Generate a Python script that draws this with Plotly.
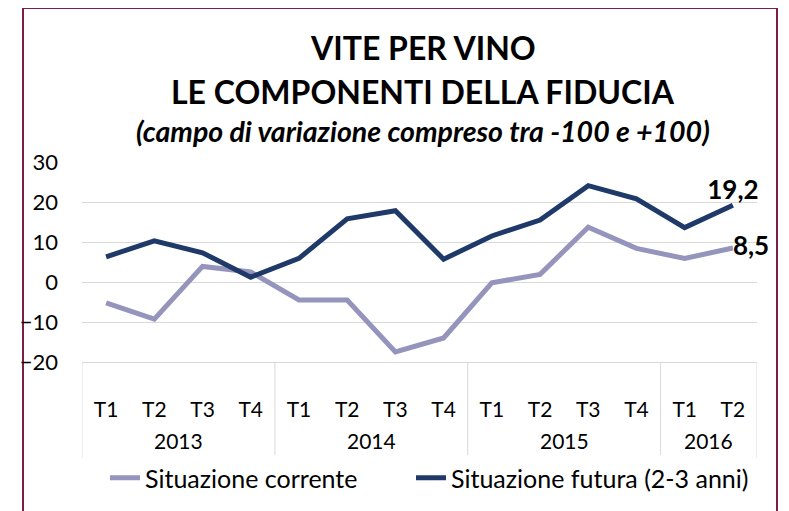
import plotly.graph_objects as go

years = ["2013"] * 4 + ["2014"] * 4 + ["2015"] * 4 + ["2016"] * 2
quarters = ["T1", "T2", "T3", "T4"] * 3 + ["T1", "T2"]
corrente = [-5.2, -9.3, 3.9, 2.5, -4.5, -4.5, -17.5, -14.0, -0.2, 1.9, 13.7, 8.4, 5.9, 8.5]
futura = [6.3, 10.3, 7.3, 1.2, 5.9, 15.8, 17.8, 5.7, 11.5, 15.5, 24.1, 20.8, 13.6, 19.2]
name_corr = "Situazione corrente"
name_fut = "Situazione futura (2-3 anni)"
ytick_vals = [-20, -10, 0, 10, 20, 30]

FONT = "Lato"
C_LIGHT = "#9494BC"
C_DARK = "#1F3A68"
GRID = "#D9D9D9"

xs = list(range(len(quarters)))  # category slots on the axis


def last_label(vals):
    return [""] * (len(vals) - 1) + [f"{vals[-1]:.1f}".replace(".", ",")]


fig = go.Figure()
fig.add_trace(go.Scatter(
    x=xs, y=corrente, name=name_corr, mode="lines+text",
    line=dict(color=C_LIGHT, width=5),
    text=last_label(corrente), textposition="middle right",
    textfont=dict(family=FONT, size=26, color="black", weight="bold"),
    cliponaxis=False, legend="legend",
))
fig.add_trace(go.Scatter(
    x=xs, y=futura, name=name_fut, mode="lines+text",
    line=dict(color=C_DARK, width=5),
    text=last_label(futura), textposition="top center",
    textfont=dict(family=FONT, size=26, color="black", weight="bold"),
    cliponaxis=False, legend="legend2",
))

OFF = 8  # browser default body margin
L, R, T, B = 82 - OFF, 757 - OFF, 162 - OFF, 362 - OFF
W, H = 789 - OFF, 511 - OFF


def px(x):
    return (x - OFF - L) / (R - L)


def py(y):
    return (B - (y - OFF)) / (B - T)


# year group labels and dividers (second level of the category axis)
groups = []
for i, yv in enumerate(years):
    if not groups or groups[-1][0] != yv:
        groups.append([yv, i, i])
    else:
        groups[-1][2] = i

annotations = [
    dict(text="<b>VITE PER VINO</b>", xref="paper", yref="paper", x=px(423), y=py(48),
         xanchor="center", yanchor="middle", showarrow=False,
         font=dict(family=FONT, size=32, color="black")),
    dict(text="<b>LE COMPONENTI DELLA FIDUCIA</b>", xref="paper", yref="paper", x=px(423), y=py(92),
         xanchor="center", yanchor="middle", showarrow=False,
         font=dict(family=FONT, size=32, color="black")),
    dict(text="<b><i>(campo di variazione compreso tra -100 e +100)</i></b>", xref="paper", yref="paper",
         x=px(423), y=py(131), xanchor="center", yanchor="middle", showarrow=False,
         font=dict(family=FONT, size=28.5, color="black")),
]
for yv, a, b in groups:
    annotations.append(dict(text=yv, xref="x", yref="paper", x=(a + b) / 2, y=py(440),
                            xanchor="center", yanchor="middle", showarrow=False,
                            font=dict(family=FONT, size=21, color="black")))

shapes = [
    dict(type="rect", xref="paper", yref="paper", x0=px(23), x1=px(777), y0=py(530), y1=py(8),
         line=dict(color="#7A1F4A", width=2), fillcolor="rgba(0,0,0,0)", layer="below"),
]
bounds = [g[1] - 0.5 for g in groups] + [groups[-1][2] + 0.5]
for bx in bounds:
    shapes.append(dict(type="line", xref="x", yref="paper", x0=bx, x1=bx, y0=0, y1=py(458),
                       line=dict(color=GRID, width=1)))

leg_font = dict(family=FONT, size=25, color="black")
fig.update_layout(
    width=W, height=H,
    margin=dict(l=L, r=W - R, t=T, b=H - B, autoexpand=False),
    paper_bgcolor="white", plot_bgcolor="white",
    font=dict(family=FONT, size=20, color="black"),
    separators=",.",
    showlegend=True,
    legend=dict(orientation="h", x=px(105), xanchor="left", y=py(478), yanchor="middle", font=leg_font),
    legend2=dict(orientation="h", x=px(411), xanchor="left", y=py(478), yanchor="middle", font=leg_font),
    annotations=annotations,
    shapes=shapes,
)

fig.update_yaxes(range=[-20, 30], tickvals=ytick_vals, showgrid=True, gridcolor=GRID, gridwidth=1,
                 zeroline=False, showline=False, ticks="", tickfont=dict(family=FONT, size=22),
                 ticklabelstandoff=23)
fig.update_xaxes(range=[-0.5, len(quarters) - 0.5], tickvals=xs, ticktext=quarters,
                 showgrid=False, zeroline=False, showline=True, linecolor=GRID, linewidth=1,
                 ticks="", tickfont=dict(family=FONT, size=21), ticklabelstandoff=29)

fig.write_html("out.html")
